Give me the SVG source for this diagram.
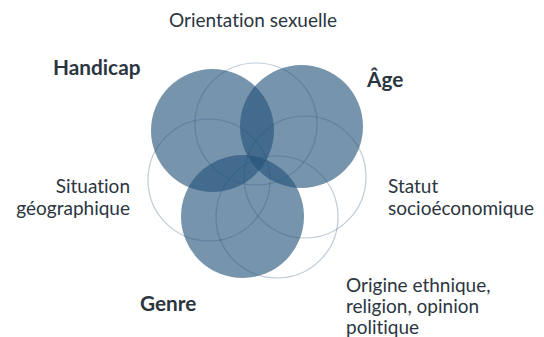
<svg xmlns="http://www.w3.org/2000/svg" width="544" height="337" viewBox="0 0 544 337">
<style>
.f{fill:#24527a;fill-opacity:0.62;stroke:none}
.o{fill:none;stroke:#24527a;stroke-opacity:0.3;stroke-width:1.2}
text{font-family:"Lato","Liberation Sans",sans-serif;fill:#2b3540;font-size:19px;font-variant-ligatures:none}
.b{font-weight:bold;font-size:20.8px}
</style>
<rect width="544" height="337" fill="#fff"/>
<g id="circles">
<g id="handicap"><circle class="f" cx="212.5" cy="130.5" r="61.5"/></g>
<g id="age"><circle class="f" cx="301.5" cy="126.5" r="61.5"/></g>
<g id="genre"><circle class="f" cx="242.5" cy="216.5" r="61.5"/></g>
<g id="orientation"><circle class="o" cx="256" cy="124" r="61"/></g>
<g id="situation"><circle class="o" cx="209" cy="180" r="61"/></g>
<g id="statut"><circle class="o" cx="305" cy="177" r="61"/></g>
<g id="origine"><circle class="o" cx="277" cy="217" r="61"/></g>
</g>
<g id="labels">
<text x="253" y="27" text-anchor="middle">Orientation sexuelle</text>
<text class="b" x="53" y="75">Handicap</text>
<text class="b" x="367" y="87">Âge</text>
<text class="b" x="140" y="311">Genre</text>
<text x="130" y="193" text-anchor="end">Situation</text>
<text x="130" y="215" text-anchor="end">géographique</text>
<text x="388" y="193">Statut</text>
<text x="388" y="215">socioéconomique</text>
<text x="346" y="292">Origine ethnique,</text>
<text x="346" y="313">religion, opinion</text>
<text x="346" y="334">politique</text>
</g>
</svg>
